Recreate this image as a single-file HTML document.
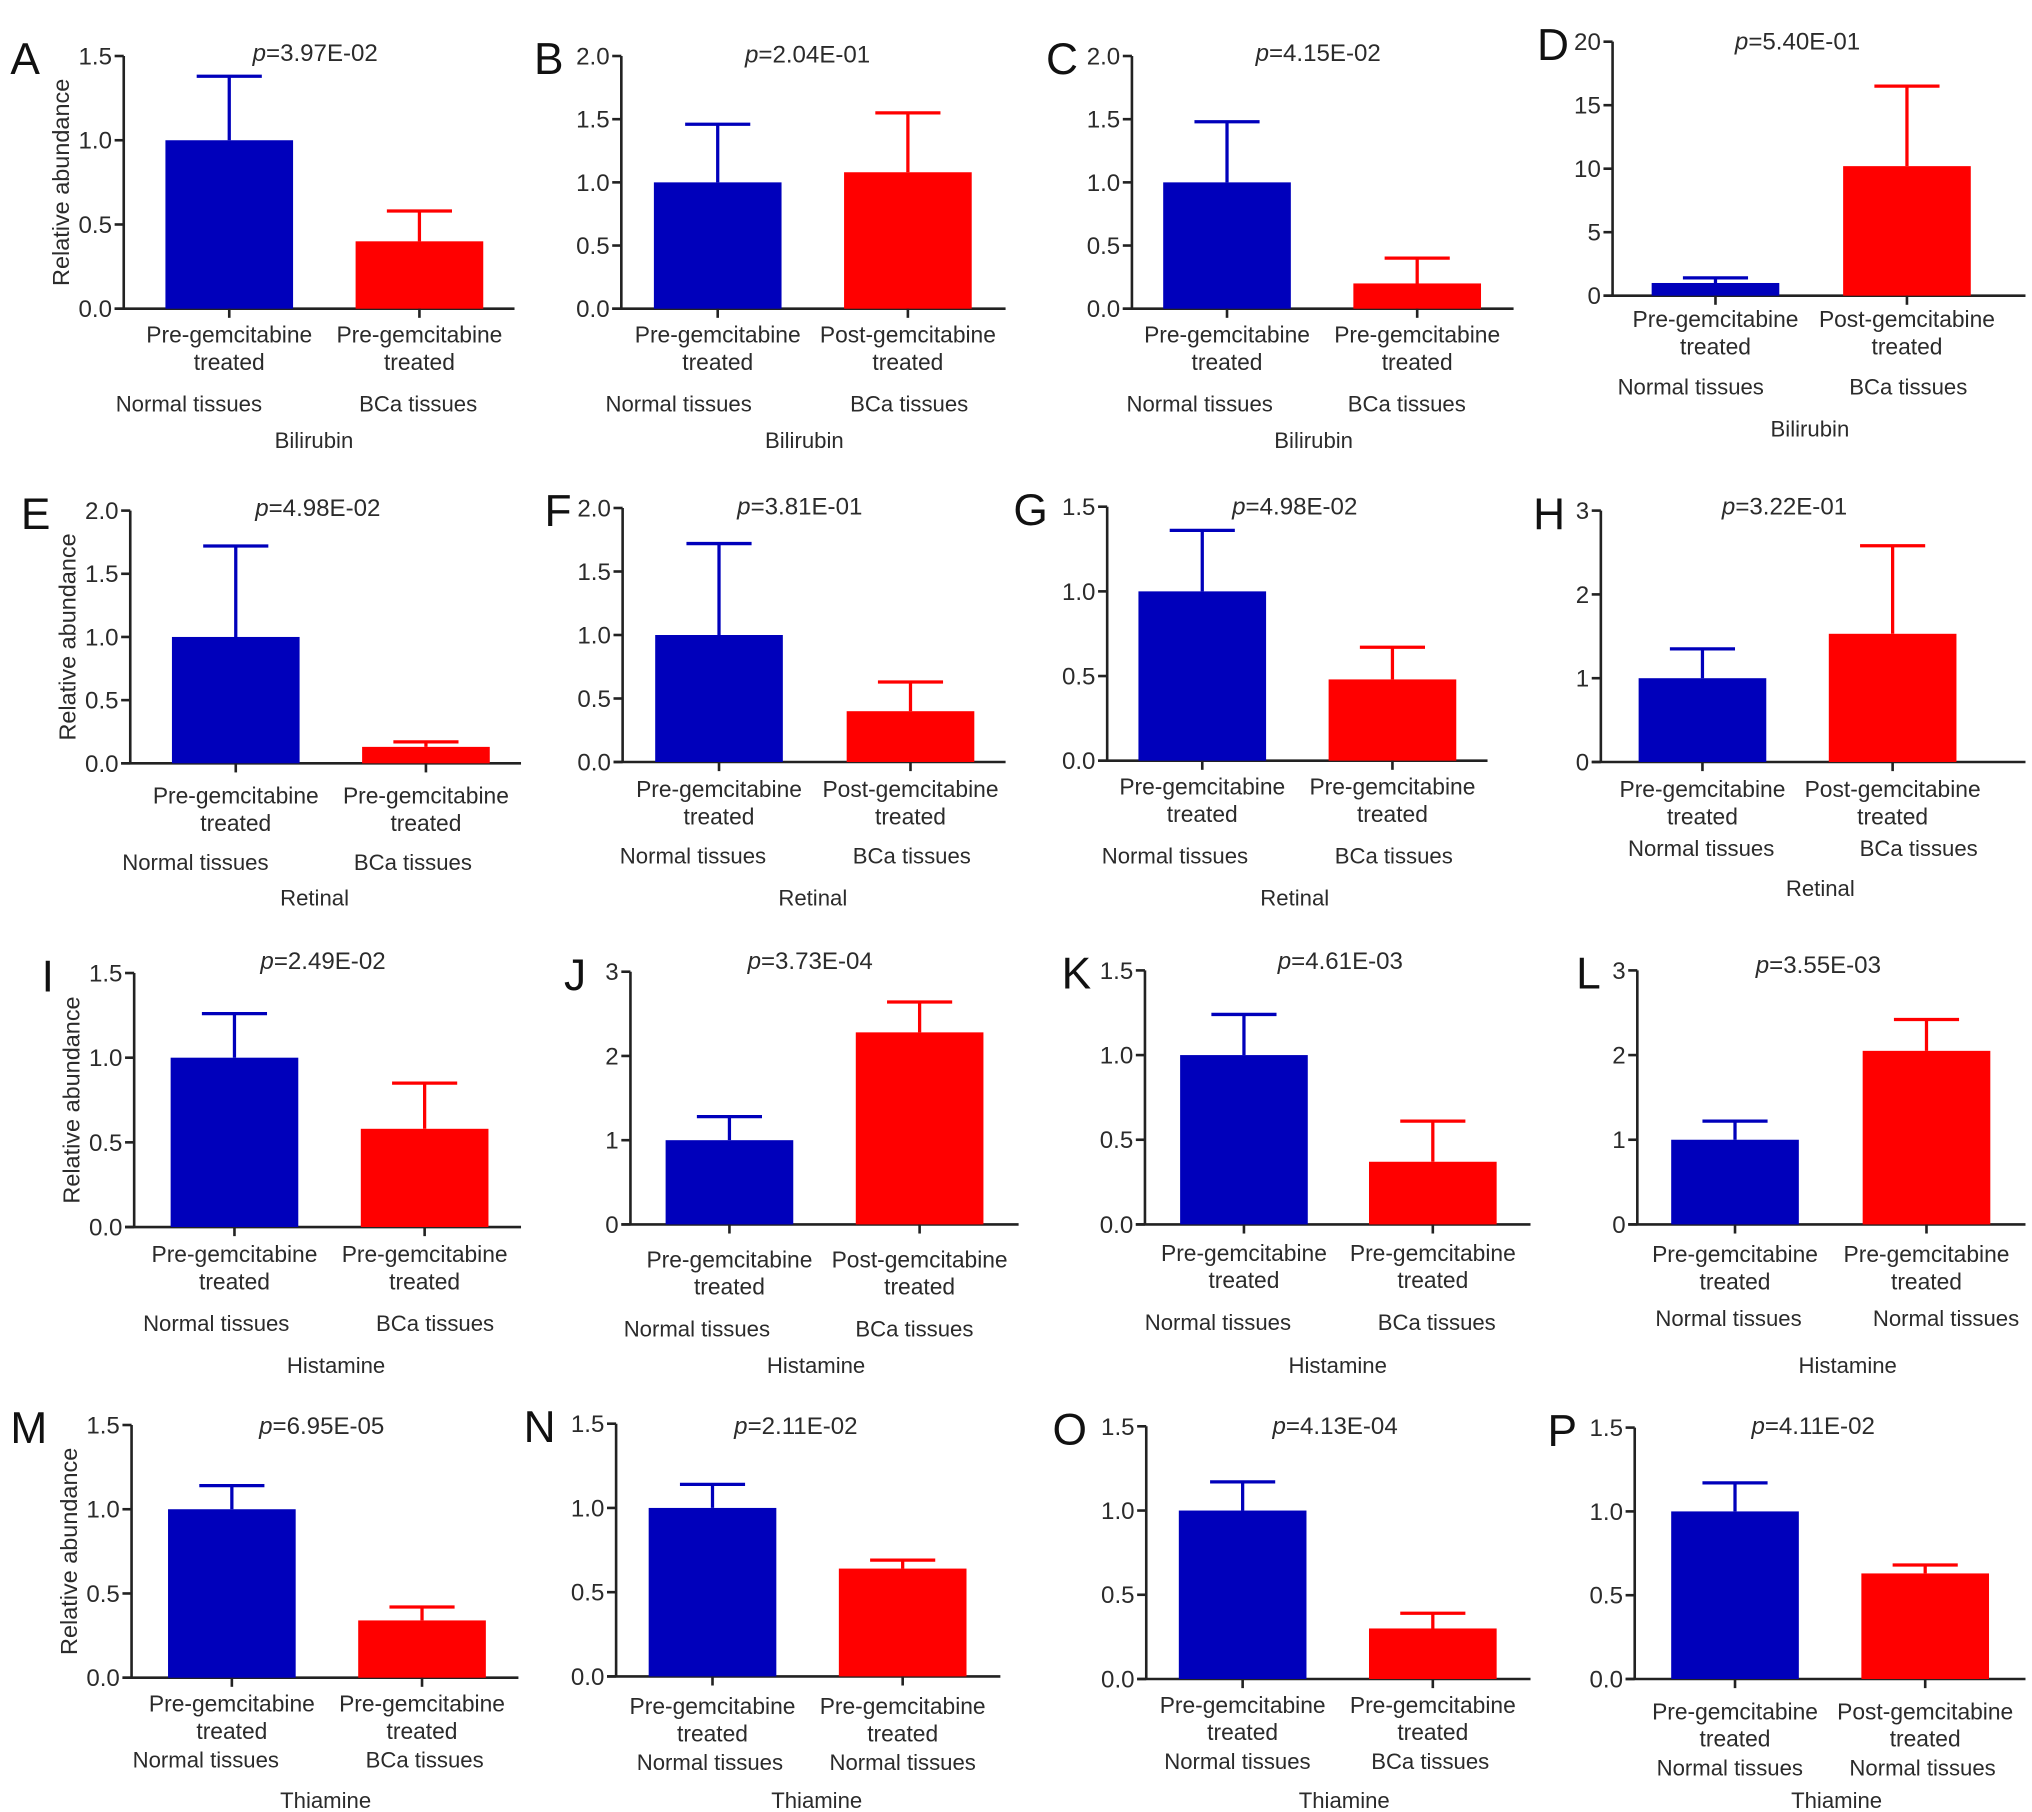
<!DOCTYPE html>
<html><head><meta charset="utf-8"><style>
html,body{margin:0;padding:0;background:#fff;}
svg{display:block;font-family:"Liberation Sans",Arial,sans-serif;}
</style></head><body>
<svg id="chart" width="2032" height="1812" viewBox="0 0 1560 1391.1" xmlns="http://www.w3.org/2000/svg"></svg>
<script>
// ---- data ----
const panelLetters = ["A","B","C","D","E","F","G","H","I","J","K","L","M","N","O","P"];
const pValues = ["3.97E-02","2.04E-01","4.15E-02","5.40E-01","4.98E-02","3.81E-01","4.98E-02","3.22E-01","2.49E-02","3.73E-04","4.61E-03","3.55E-03","6.95E-05","2.11E-02","4.13E-04","4.11E-02"];
const metabolites = ["Bilirubin","Bilirubin","Bilirubin","Bilirubin","Retinal","Retinal","Retinal","Retinal","Histamine","Histamine","Histamine","Histamine","Thiamine","Thiamine","Thiamine","Thiamine"];
const blueValues = [1.0,1.0,1.0,1.0, 1.0,1.0,1.0,1.0, 1.0,1.0,1.0,1.0, 1.0,1.0,1.0,1.0];
const blueErrors = [1.38,1.46,1.48,1.4, 1.72,1.72,1.36,1.35, 1.26,1.28,1.24,1.22, 1.14,1.14,1.17,1.17];
const redValues = [0.4,1.08,0.2,10.2, 0.13,0.4,0.48,1.53, 0.58,2.28,0.37,2.05, 0.34,0.64,0.3,0.63];
const redErrors = [0.58,1.55,0.4,16.5, 0.17,0.63,0.67,2.58, 0.85,2.64,0.61,2.42, 0.42,0.69,0.39,0.68];
const yMaxes = [1.5,2.0,2.0,20, 2.0,2.0,1.5,3, 1.5,3,1.5,3, 1.5,1.5,1.5,1.5];
const tickLabelSets = {
  "1.5":["0.0","0.5","1.0","1.5"],
  "2":["0.0","0.5","1.0","1.5","2.0"],
  "20":["0","5","10","15","20"],
  "3":["0","1","2","3"]
};
const blueCats = ["Pre-gemcitabine","Pre-gemcitabine","Pre-gemcitabine","Pre-gemcitabine","Pre-gemcitabine","Pre-gemcitabine","Pre-gemcitabine","Pre-gemcitabine","Pre-gemcitabine","Pre-gemcitabine","Pre-gemcitabine","Pre-gemcitabine","Pre-gemcitabine","Pre-gemcitabine","Pre-gemcitabine","Pre-gemcitabine"];
const redCats = ["Pre-gemcitabine","Post-gemcitabine","Pre-gemcitabine","Post-gemcitabine","Pre-gemcitabine","Post-gemcitabine","Pre-gemcitabine","Post-gemcitabine","Pre-gemcitabine","Post-gemcitabine","Pre-gemcitabine","Pre-gemcitabine","Pre-gemcitabine","Pre-gemcitabine","Pre-gemcitabine","Post-gemcitabine"];
const blueGroups = ["Normal tissues","Normal tissues","Normal tissues","Normal tissues","Normal tissues","Normal tissues","Normal tissues","Normal tissues","Normal tissues","Normal tissues","Normal tissues","Normal tissues","Normal tissues","Normal tissues","Normal tissues","Normal tissues"];
const redGroups = ["BCa tissues","BCa tissues","BCa tissues","BCa tissues","BCa tissues","BCa tissues","BCa tissues","BCa tissues","BCa tissues","BCa tissues","BCa tissues","Normal tissues","BCa tissues","Normal tissues","BCa tissues","Normal tissues"];

// ---- layout (pixel geometry, not data) ----
const layout = [
 {lx:8,ax:95,top:43,base:237,end:395,b1:127,r1:273,l1:263,l2:284,g:316,m:344,px:242,py:47,gb:145,gr:321},
 {lx:410,ax:477,top:43,base:237,end:772,b1:502,r1:648,l1:263,l2:284,g:316,m:344,px:620,py:48,gb:521,gr:698},
 {lx:803,ax:869,top:43,base:237,end:1162,b1:893,r1:1039,l1:263,l2:284,g:316,m:344,px:1012,py:47,gb:921,gr:1080},
 {lx:1180,ax:1238,top:32,base:227,end:1555,b1:1268,r1:1415,l1:251,l2:272,g:303,m:335,px:1380,py:38,gb:1298,gr:1465},
 {lx:16,ax:100,top:392,base:586,end:400,b1:132,r1:278,l1:617,l2:638,g:668,m:695,px:244,py:396,gb:150,gr:317},
 {lx:418,ax:478,top:390,base:585,end:772,b1:503,r1:650,l1:612,l2:633,g:663,m:695,px:614,py:395,gb:532,gr:700},
 {lx:778,ax:850,top:389,base:584,end:1142,b1:874,r1:1020,l1:610,l2:631,g:663,m:695,px:994,py:395,gb:902,gr:1070},
 {lx:1177,ax:1229,top:392,base:585,end:1555,b1:1258,r1:1404,l1:612,l2:633,g:657,m:688,px:1370,py:395,gb:1306,gr:1473},
 {lx:32,ax:103,top:747,base:942,end:400,b1:131,r1:277,l1:969,l2:990,g:1022,m:1054,px:248,py:744,gb:166,gr:334},
 {lx:433,ax:484,top:746,base:940,end:782,b1:511,r1:657,l1:973,l2:994,g:1026,m:1054,px:622,py:744,gb:535,gr:702},
 {lx:815,ax:879,top:745,base:940,end:1175,b1:906,r1:1051,l1:968,l2:989,g:1021,m:1054,px:1029,py:744,gb:935,gr:1103},
 {lx:1210,ax:1257,top:745,base:940,end:1555,b1:1283,r1:1430,l1:969,l2:990,g:1018,m:1054,px:1396,py:747,gb:1327,gr:1494},
 {lx:8,ax:101,top:1094,base:1288,end:398,b1:129,r1:275,l1:1314,l2:1335,g:1357,m:1388,px:247,py:1101,gb:158,gr:326},
 {lx:402,ax:473,top:1093,base:1287,end:768,b1:498,r1:644,l1:1316,l2:1337,g:1359,m:1388,px:611,py:1101,gb:545,gr:693},
 {lx:808,ax:880,top:1095,base:1289,end:1175,b1:905,r1:1051,l1:1315,l2:1336,g:1358,m:1388,px:1025,py:1101,gb:950,gr:1098},
 {lx:1188,ax:1255,top:1096,base:1289,end:1555,b1:1283,r1:1429,l1:1320,l2:1341,g:1363,m:1388,px:1392,py:1101,gb:1328,gr:1476}
];
const BW = 98, CAP = 25;
const svg = document.getElementById('chart');
const NS = "http://www.w3.org/2000/svg";
function mk(tag, attrs, parent, text){
  const e = document.createElementNS(NS, tag);
  for (const k in attrs) e.setAttribute(k, attrs[k]);
  if (text !== undefined) e.textContent = text;
  parent.appendChild(e);
  return e;
}
const TXT = "#2b2b2b";
panelLetters.forEach((L, i) => {
  const P = layout[i];
  const g = mk('g', {}, svg);
  
  
  const ymax = yMaxes[i];
  const y = v => P.base - (v / ymax) * (P.base - P.top);
  const ticks = tickLabelSets[String(ymax)];
  const lt = mk('text', {x: P.lx, y: P.top + 14, 'font-size': 34, fill: '#111'}, g, L);
  
  
  const ya = mk('line', {x1: P.ax, y1: P.top, x2: P.ax, y2: P.base, stroke: '#222', 'stroke-width': 2}, g);
  
  
  const xa = mk('line', {x1: P.ax - 7, y1: P.base, x2: P.end, y2: P.base, stroke: '#222', 'stroke-width': 2}, g);
  
  
  ticks.forEach((t, k) => {
    const v = ymax * k / (ticks.length - 1);
    const yy = y(v);
    mk('line', {x1: P.ax - 7, y1: yy, x2: P.ax, y2: yy, stroke: '#222', 'stroke-width': 2}, g);
    const tl = mk('text', {x: P.ax - 9, y: yy + 6.5, 'font-size': 18.5, 'text-anchor': 'end', fill: TXT}, g, t);
    
    
  });
  if (i % 4 === 0) {
    const yt = mk('text', {x: 0, y: 0, 'font-size': 18, 'text-anchor': 'middle', fill: TXT,
      transform: `translate(${P.ax - 42},${(P.top + P.base) / 2}) rotate(-90)`}, g, 'Relative abundance');
    
    
  }
  [[P.b1, blueValues[i], blueErrors[i], '#0000bb', blueCats[i], blueGroups[i], P.gb, 'bar-pre'],
   [P.r1, redValues[i], redErrors[i], '#ff0000', redCats[i], redGroups[i], P.gr, 'bar-second']].forEach(b => {
    const [x0, v, e, col, cat, grp, gx, nm] = b;
    const cx = x0 + BW / 2;
    const r = mk('rect', {x: x0, y: y(v), width: BW, height: P.base - y(v), fill: col}, g);
    
    
    const eb = mk('path', {d: `M${cx},${y(v)}V${y(e)}M${cx - CAP},${y(e)}H${cx + CAP}`, stroke: col, 'stroke-width': 2.5, fill: 'none'}, g);
    
    
    mk('line', {x1: cx, y1: P.base, x2: cx, y2: P.base + 7, stroke: '#222', 'stroke-width': 2}, g);
    const c1 = mk('text', {x: cx, y: P.l1, 'font-size': 17.5, 'text-anchor': 'middle', fill: TXT}, g, cat);
    
    
    const c2 = mk('text', {x: cx, y: P.l2, 'font-size': 17.5, 'text-anchor': 'middle', fill: TXT}, g, 'treated');
    
    
    const gl = mk('text', {x: gx, y: P.g, 'font-size': 17, 'text-anchor': 'middle', fill: TXT}, g, grp);
    
    
  });
  const mt = mk('text', {x: (P.gb + P.gr) / 2 + 8, y: P.m, 'font-size': 17, 'text-anchor': 'middle', fill: TXT}, g, metabolites[i]);
  
  
  const pt = mk('text', {x: P.px, y: P.py, 'font-size': 18.5, 'text-anchor': 'middle', fill: TXT}, g);
  
  
  mk('tspan', {'font-style': 'italic'}, pt, 'p');
  mk('tspan', {}, pt, '=' + pValues[i]);
});
</script>
</body></html>
